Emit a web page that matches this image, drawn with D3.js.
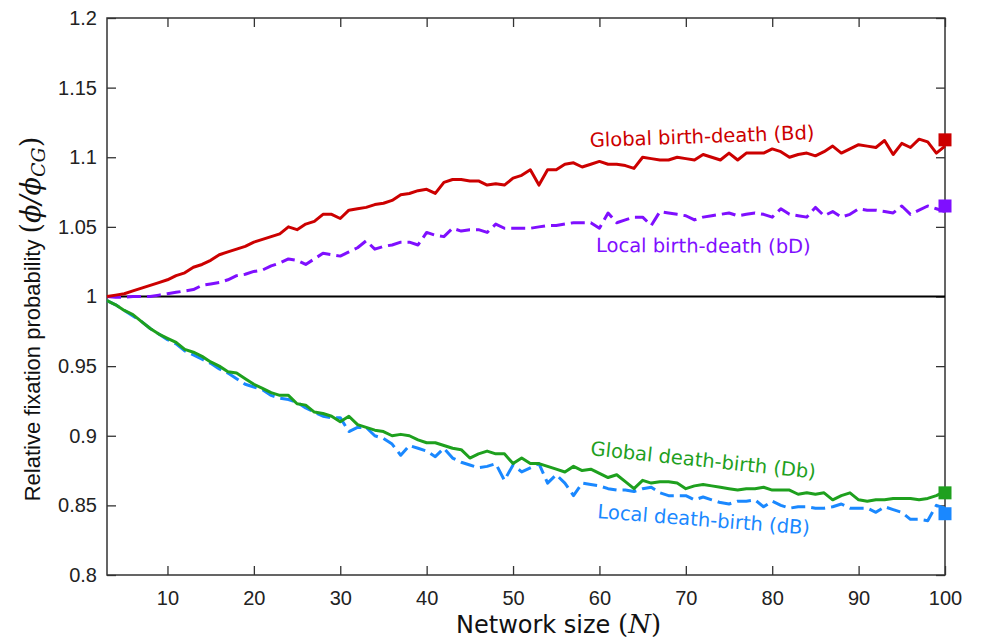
<!DOCTYPE html>
<html>
<head>
<meta charset="utf-8">
<script src="https://cdn.jsdelivr.net/npm/d3@7"></script>
<style>
  body { margin: 0; background: #fff; }
  svg { display: block; }
  .tick text { font-family: "Liberation Sans", Arial, sans-serif; font-size: 20px; fill: #222; }
  .domain { display: none; }
  .tick line { stroke: #333; stroke-width: 1.3; }
</style>
</head>
<body>
<svg id="chart" width="981" height="638"></svg>
<script>
// network sizes N = 3..100
var sizes = d3.range(3, 101);

// global birth-death (Bd)
var globalBD = [
  1.000, 1.001, 1.002, 1.004, 1.006, 1.008, 1.010, 1.012, 1.015, 1.017,
  1.021, 1.023, 1.026, 1.030, 1.032, 1.034, 1.036, 1.039, 1.041, 1.043,
  1.045, 1.050, 1.048, 1.052, 1.054, 1.059, 1.059, 1.056, 1.062, 1.063,
  1.064, 1.066, 1.067, 1.069, 1.073, 1.074, 1.076, 1.077, 1.074, 1.082,
  1.084, 1.084, 1.083, 1.083, 1.080, 1.081, 1.080, 1.085, 1.087, 1.091,
  1.080, 1.091, 1.091, 1.095, 1.096, 1.093, 1.095, 1.097, 1.095, 1.095,
  1.094, 1.092, 1.100, 1.099, 1.098, 1.098, 1.100, 1.099, 1.098, 1.102,
  1.100, 1.098, 1.103, 1.098, 1.103, 1.103, 1.103, 1.106, 1.104, 1.100,
  1.102, 1.103, 1.101, 1.104, 1.108, 1.103, 1.106, 1.109, 1.108, 1.107,
  1.112, 1.102, 1.110, 1.107, 1.113, 1.111, 1.103, 1.108
];

// local birth-death (bD)
var localBD = [
  1.000, 0.9995, 0.9995, 1.000, 1.000, 1.000, 1.001, 1.002, 1.003, 1.004,
  1.005, 1.008, 1.009, 1.010, 1.012, 1.015, 1.016, 1.018, 1.019, 1.022,
  1.024, 1.027, 1.026, 1.023, 1.027, 1.031, 1.030, 1.029, 1.032, 1.035,
  1.040, 1.034, 1.036, 1.037, 1.039, 1.039, 1.037, 1.046, 1.044, 1.043,
  1.049, 1.047, 1.048, 1.048, 1.046, 1.052, 1.049, 1.049, 1.049, 1.049,
  1.050, 1.051, 1.051, 1.052, 1.053, 1.053, 1.053, 1.049, 1.060, 1.053,
  1.055, 1.057, 1.057, 1.051, 1.061, 1.060, 1.059, 1.058, 1.055, 1.057,
  1.058, 1.059, 1.060, 1.058, 1.059, 1.060, 1.059, 1.057, 1.063, 1.059,
  1.058, 1.057, 1.064, 1.058, 1.061, 1.057, 1.059, 1.063, 1.062, 1.062,
  1.061, 1.060, 1.065, 1.059, 1.062, 1.065, 1.063, 1.061
];

// global death-birth (Db)
var globalDB = [
  0.997, 0.994, 0.990, 0.987, 0.982, 0.977, 0.973, 0.970, 0.967, 0.962,
  0.960, 0.957, 0.953, 0.950, 0.946, 0.945, 0.941, 0.937, 0.934, 0.931,
  0.929, 0.929, 0.923, 0.922, 0.917, 0.916, 0.914, 0.910, 0.914, 0.908,
  0.906, 0.904, 0.903, 0.900, 0.901, 0.900, 0.897, 0.895, 0.895, 0.893,
  0.891, 0.890, 0.884, 0.887, 0.889, 0.887, 0.887, 0.880, 0.884, 0.880,
  0.880, 0.878, 0.876, 0.874, 0.878, 0.875, 0.876, 0.873, 0.870, 0.872,
  0.867, 0.862, 0.868, 0.866, 0.867, 0.867, 0.866, 0.862, 0.864, 0.865,
  0.864, 0.863, 0.862, 0.861, 0.862, 0.862, 0.863, 0.861, 0.861, 0.861,
  0.858, 0.859, 0.858, 0.859, 0.854, 0.857, 0.859, 0.854, 0.853, 0.854,
  0.854, 0.855, 0.855, 0.855, 0.854, 0.855, 0.857, 0.860
];

// local death-birth (dB)
var localDB = [
  0.997, 0.994, 0.990, 0.986, 0.982, 0.977, 0.973, 0.969, 0.966, 0.961,
  0.958, 0.955, 0.952, 0.948, 0.945, 0.941, 0.937, 0.935, 0.933, 0.929,
  0.927, 0.926, 0.924, 0.920, 0.917, 0.914, 0.913, 0.913, 0.903, 0.906,
  0.906, 0.900, 0.898, 0.894, 0.886, 0.893, 0.891, 0.889, 0.885, 0.891,
  0.884, 0.881, 0.879, 0.877, 0.878, 0.880, 0.868, 0.879, 0.874, 0.877,
  0.880, 0.866, 0.872, 0.866, 0.857, 0.866, 0.865, 0.864, 0.862, 0.861,
  0.861, 0.860, 0.862, 0.863, 0.859, 0.857, 0.857, 0.857, 0.854, 0.856,
  0.854, 0.852, 0.851, 0.853, 0.853, 0.854, 0.849, 0.853, 0.850, 0.848,
  0.849, 0.849, 0.848, 0.848, 0.849, 0.851, 0.848, 0.848, 0.848, 0.845,
  0.849, 0.847, 0.845, 0.840, 0.840, 0.839, 0.850, 0.848
];

// values of the square markers drawn at N = 100
var endMarkers = [1.1125, 1.065, 0.859, 0.844];

var seriesNames = ["Global birth-death (Bd)", "Local birth-death (bD)",
                   "Global death-birth (Db)", "Local death-birth (dB)"];
var seriesValues = [globalBD, localBD, globalDB, localDB];
var colors = ["#cc0000", "#7f0fff", "#1ea01e", "#1a88ff"];
var dashed = [false, true, false, true];

var xTicks = d3.range(10, 101, 10);
var yTicks = [0.8, 0.85, 0.9, 0.95, 1, 1.05, 1.1, 1.15, 1.2];

var plotL = 107, plotR = 945, plotT = 18, plotB = 575;

var svg = d3.select("#chart");

var x = d3.scaleLinear().domain([3, 100]).range([plotL, plotR]);
var y = d3.scaleLinear().domain([0.8, 1.2]).range([plotB, plotT]);

var fmt = function(d) { return String(+d.toFixed(2)); };

// axes, ticks pointing inward
svg.append("g")
  .attr("transform", "translate(0," + plotB + ")")
  .call(d3.axisBottom(x).tickValues(xTicks).tickSize(-9).tickPadding(16).tickFormat(d3.format("d")));
svg.append("g")
  .attr("transform", "translate(0," + plotT + ")")
  .call(d3.axisTop(x).tickValues(xTicks).tickSize(-9).tickFormat(""));
svg.append("g")
  .attr("transform", "translate(" + plotL + ",0)")
  .call(d3.axisLeft(y).tickValues(yTicks).tickSize(-9).tickPadding(10).tickFormat(fmt));
svg.append("g")
  .attr("transform", "translate(" + plotR + ",0)")
  .call(d3.axisRight(y).tickValues(yTicks).tickSize(-9).tickFormat(""));

// frame
svg.append("rect")
  .attr("x", plotL).attr("y", plotT)
  .attr("width", plotR - plotL).attr("height", plotB - plotT)
  .attr("fill", "none").attr("stroke", "#333").attr("stroke-width", 1.5);

// reference line at 1
svg.append("line")
  .attr("x1", plotL).attr("x2", plotR)
  .attr("y1", y(1)).attr("y2", y(1))
  .attr("stroke", "#000").attr("stroke-width", 2);

var line = d3.line()
  .x(function(d, i) { return x(sizes[i]); })
  .y(function(d) { return y(d); });

// draw order: dashed under solid like the original
[3, 2, 1, 0].forEach(function(k) {
  svg.append("path")
    .datum(seriesValues[k])
    .attr("d", line)
    .attr("fill", "none")
    .attr("stroke", colors[k])
    .attr("stroke-width", 3)
    .attr("stroke-linejoin", "round")
    .attr("stroke-dasharray", dashed[k] ? "14,6" : null);
});

var sq = 13;
svg.selectAll("rect.end")
  .data(endMarkers)
  .enter().append("rect")
  .attr("class", "end")
  .attr("x", x(100) - sq / 2)
  .attr("y", function(d) { return y(d) - sq / 2; })
  .attr("width", sq).attr("height", sq)
  .attr("fill", function(d, i) { return colors[i]; });

// series labels
var labelPos = [
  {x: 590, y: 147, rot: -2},
  {x: 596, y: 252, rot: 0.3},
  {x: 590, y: 455, rot: 6},
  {x: 597, y: 518, rot: 4.5}
];
seriesNames.forEach(function(name, i) {
  var p = labelPos[i];
  svg.append("text")
    .attr("transform", "translate(" + p.x + "," + p.y + ") rotate(" + p.rot + ")")
    .attr("font-family", "DejaVu Sans, sans-serif")
    .attr("font-size", 19.5)
    .attr("fill", colors[i])
    .text(name);
});

// axis titles
var xt = svg.append("text")
  .attr("x", 456).attr("y", 633)
  .attr("font-family", "DejaVu Sans, sans-serif")
  .attr("font-size", 24)
  .attr("fill", "#111");
xt.append("tspan").text("Network size ");
xt.append("tspan").attr("font-family", "DejaVu Serif, serif").attr("font-size", 26).text("(");
xt.append("tspan").attr("font-family", "DejaVu Serif, serif").attr("font-size", 26).attr("font-style", "italic").text("N");
xt.append("tspan").attr("font-family", "DejaVu Serif, serif").attr("font-size", 26).text(")");

var yt = svg.append("text")
  .attr("transform", "translate(40,319) rotate(-90)")
  .attr("text-anchor", "middle")
  .attr("font-family", "Liberation Sans, Arial, sans-serif")
  .attr("font-size", 22)
  .attr("fill", "#111");
yt.append("tspan").text("Relative fixation probability ");
yt.append("tspan").attr("font-family", "DejaVu Serif, serif").attr("font-size", 27).text("(");
yt.append("tspan").attr("font-family", "DejaVu Serif, serif").attr("font-size", 27).attr("font-style", "italic").text("ϕ/ϕ");
yt.append("tspan").attr("font-family", "DejaVu Serif, serif").attr("font-style", "italic")
  .attr("font-size", 19).attr("dy", 5).text("CG");
yt.append("tspan").attr("font-family", "DejaVu Serif, serif").attr("font-size", 27).attr("dy", -5).text(")");
</script>
</body>
</html>
